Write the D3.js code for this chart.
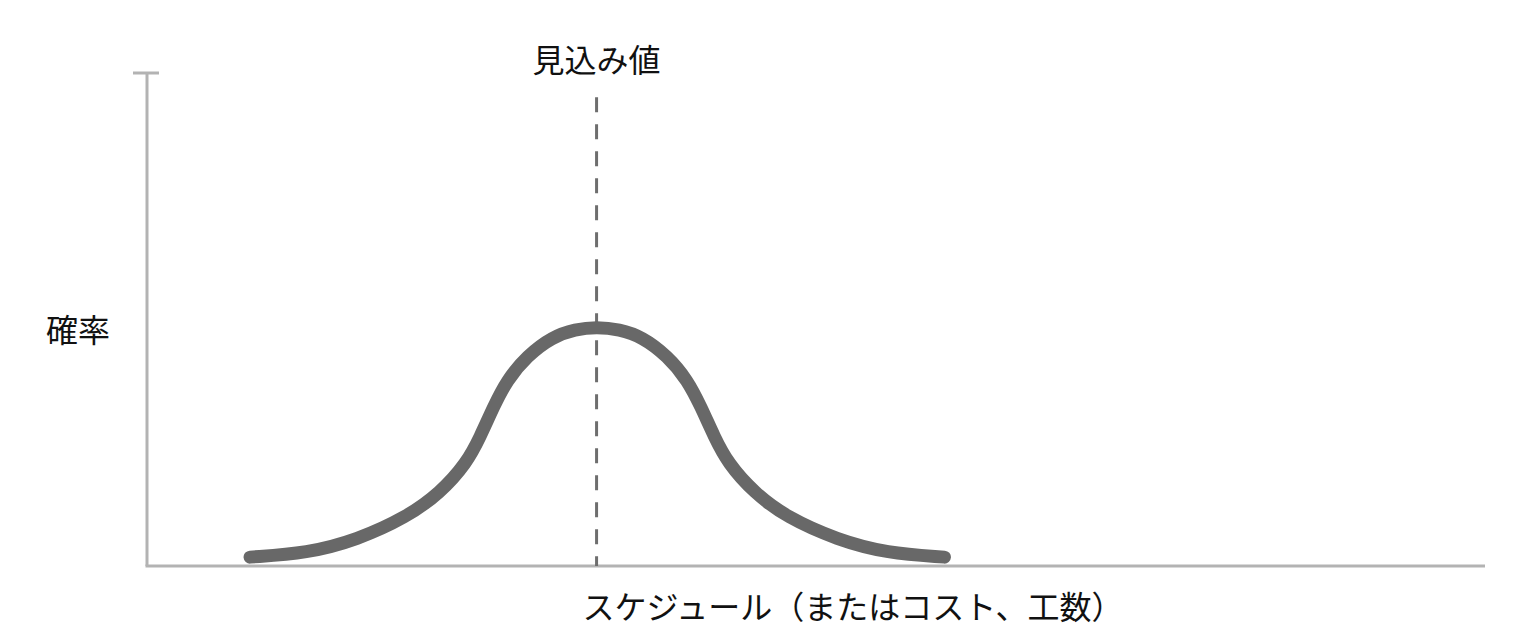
<!DOCTYPE html>
<html>
<head>
<meta charset="utf-8">
<script src="https://cdn.jsdelivr.net/npm/d3@7"></script>
<style>
  html, body { margin: 0; padding: 0; background: #fff; }
  svg { display: block; }
  text { font-family: "Noto Sans CJK JP", "Noto Sans", sans-serif; fill: #111; }
</style>
</head>
<body>
<svg id="chart" width="1520" height="636"></svg>
<script>
// ---- data ----
const curveX = [7.7, 12.0, 15.7, 19.4, 21.9, 23.9, 24.9, 25.9, 26.9, 28.4, 30.3, 32.0, 33.6,
                35.3, 37.0, 38.9, 40.4, 41.4, 42.4, 43.4, 45.4, 47.8, 51.6, 55.3, 59.6];
const curveY = [1.8, 2.6, 5.3, 9.9, 14.8, 20.9, 26.2, 32.3, 37.7, 42.6, 46.5, 48.0, 48.5,
                48.0, 46.5, 42.6, 37.7, 32.3, 26.2, 20.9, 14.8, 9.9, 5.3, 2.6, 1.8];
const expectedX = [33.6];
const expectedTop = [95.1];
const labels = ["見込み値", "確率", "スケジュール（またはコスト、工数）"];

// ---- layout ----
const svg = d3.select("#chart");
const mLeft = 147, mRight = 1485, mTop = 73, mBottom = 566;
const x = d3.scaleLinear().domain([0, 100]).range([mLeft, mRight]);
const y = d3.scaleLinear().domain([0, 100]).range([mBottom, mTop]);

const axisColor = "#b3b3b3";

// y axis
svg.append("line")
  .attr("x1", x(0)).attr("x2", x(0))
  .attr("y1", y(100)).attr("y2", y(0))
  .attr("stroke", axisColor).attr("stroke-width", 3);
// top cap
svg.append("line")
  .attr("x1", x(0) - 14).attr("x2", x(0) + 12)
  .attr("y1", y(100)).attr("y2", y(100))
  .attr("stroke", axisColor).attr("stroke-width", 3);
// x axis
svg.append("line")
  .attr("x1", x(0) - 1.5).attr("x2", x(100))
  .attr("y1", y(0)).attr("y2", y(0))
  .attr("stroke", axisColor).attr("stroke-width", 3);

// dashed expected-value line
svg.append("line")
  .attr("x1", x(expectedX[0])).attr("x2", x(expectedX[0]))
  .attr("y1", y(expectedTop[0])).attr("y2", y(0))
  .attr("stroke", "#6e6e6e").attr("stroke-width", 3)
  .attr("stroke-dasharray", "15 12");

// curve
const pts = curveX.map((v, i) => [v, curveY[i]]);
const line = d3.line()
  .x(d => x(d[0])).y(d => y(d[1]))
  .curve(d3.curveBasis);
svg.append("path")
  .attr("d", line(pts))
  .attr("fill", "none")
  .attr("stroke", "#686868")
  .attr("stroke-width", 13)
  .attr("stroke-linecap", "round")
  .attr("stroke-linejoin", "round");

// labels
svg.append("text")
  .attr("x", x(expectedX[0])).attr("y", 58)
  .attr("text-anchor", "middle").attr("dominant-baseline", "central")
  .attr("font-size", 32)
  .text(labels[0]);
svg.append("text")
  .attr("x", 78).attr("y", 328)
  .attr("text-anchor", "middle").attr("dominant-baseline", "central")
  .attr("font-size", 32)
  .text(labels[1]);
svg.append("text")
  .attr("x", 853).attr("y", 605)
  .attr("text-anchor", "middle").attr("dominant-baseline", "central")
  .attr("font-size", 32)
  .text(labels[2]);
</script>
</body>
</html>
